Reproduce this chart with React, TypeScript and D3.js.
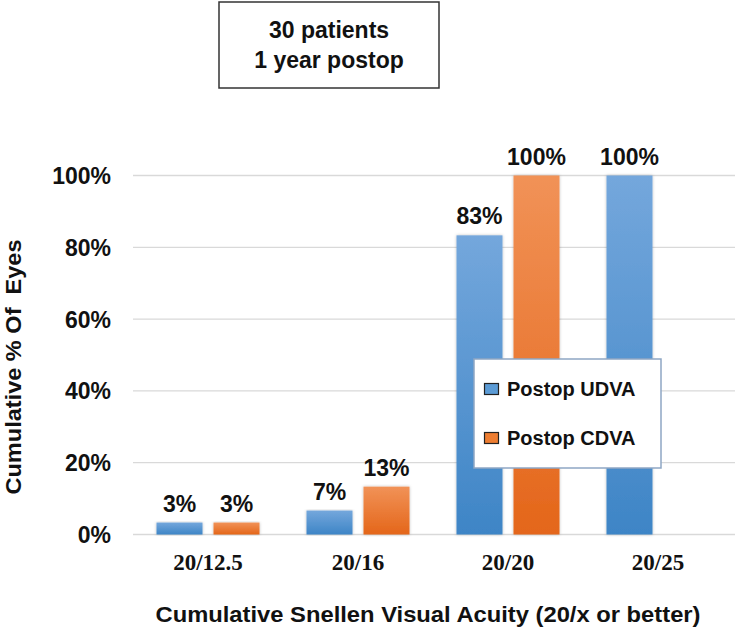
import React from "react";
import * as d3 from "d3";

const categories = ["20/12.5", "20/16", "20/20", "20/25"];
const seriesNames = ["Postop UDVA", "Postop CDVA"];
const udva = [3.33, 6.67, 83.33, 100];
const cdva: (number | null)[] = [3.33, 13.33, 100, null];
const yTicks = [0, 20, 40, 60, 80, 100];
const titleLines = ["30 patients", "1 year postop"];
const xTitle = "Cumulative Snellen Visual Acuity (20/x or better)";
const yTitle = "Cumulative % Of  Eyes";

const W = 735;
const H = 629;
const SANS = "'Liberation Sans', Arial, sans-serif";
const SERIF = "'Liberation Serif', 'Times New Roman', serif";

export default function App() {
  const x0 = d3.scaleBand<string>().domain(categories).range([133, 733]).paddingInner(0.3133).paddingOuter(0.1567);
  const x1 = d3.scaleBand<string>().domain(seriesNames).range([0, x0.bandwidth()]).paddingInner(0.193);
  const y = d3.scaleLinear().domain([0, 100]).range([534.5, 175.5]);
  const series = [udva, cdva];
  const fills = ["url(#gBlue)", "url(#gOrange)"];
  const swatch = ["#5b9bd5", "#ed7d31"];

  return (
    <svg width={W} height={H} style={{ position: "absolute", left: 0, top: 0, background: "#fff" }}>
      <defs>
        <linearGradient id="gBlue" x1="0" y1="0" x2="0" y2="1">
          <stop offset="0" stopColor="#74a7dc" />
          <stop offset="1" stopColor="#3e85c6" />
        </linearGradient>
        <linearGradient id="gOrange" x1="0" y1="0" x2="0" y2="1">
          <stop offset="0" stopColor="#f19257" />
          <stop offset="1" stopColor="#e4661a" />
        </linearGradient>
        <filter id="shadow" x="-20%" y="-5%" width="140%" height="110%">
          <feDropShadow dx="0" dy="0" stdDeviation="1.5" floodColor="#000" floodOpacity="0.25" />
        </filter>
      </defs>

      {/* gridlines */}
      {yTicks.map((t) => (
        <line key={t} x1={133} x2={W} y1={y(t)} y2={y(t)} stroke="#d9d9d9" strokeWidth={1.3} />
      ))}

      {/* y tick labels */}
      {yTicks.map((t) => (
        <text key={t} x={111} y={y(t) + 8.5} textAnchor="end" fontFamily={SANS} fontWeight="bold" fontSize={23} fill="#111">
          {t}%
        </text>
      ))}

      {/* bars */}
      {categories.map((c, i) => (
        <g key={c} transform={`translate(${x0(c)},0)`}>
          {series.map((s, j) => {
            const v = s[i];
            if (v == null) return null;
            const bx = x1(seriesNames[j])!;
            return (
              <g key={j}>
                <rect x={bx} y={y(v)} width={x1.bandwidth()} height={y(0) - y(v)} fill={fills[j]} filter="url(#shadow)" />
                <text x={bx + x1.bandwidth() / 2} y={y(v) - 11} textAnchor="middle" fontFamily={SANS} fontWeight="bold" fontSize={23} fill="#111">
                  {Math.round(v)}%
                </text>
              </g>
            );
          })}
        </g>
      ))}

      {/* x tick labels */}
      {categories.map((c) => (
        <text key={c} x={x0(c)! + x0.bandwidth() / 2} y={570} textAnchor="middle" fontFamily={SERIF} fontWeight="bold" fontSize={23} fill="#111">
          {c}
        </text>
      ))}

      {/* axis titles */}
      <text x={428} y={622} textAnchor="middle" fontFamily={SANS} fontWeight="bold" fontSize={22} fill="#111" textLength={545} lengthAdjust="spacingAndGlyphs">
        {xTitle}
      </text>
      <text transform="translate(21,367) rotate(-90)" textAnchor="middle" fontFamily={SANS} fontWeight="bold" fontSize={22} fill="#111" textLength={255} lengthAdjust="spacingAndGlyphs" style={{ whiteSpace: "pre" }}>
        {yTitle}
      </text>

      {/* title box */}
      <rect x={219} y={2} width={220} height={86} fill="#fff" stroke="#333" strokeWidth={1.5} />
      {titleLines.map((l, i) => (
        <text key={l} x={329} y={38 + i * 30} textAnchor="middle" fontFamily={SANS} fontWeight="bold" fontSize={23} fill="#111">
          {l}
        </text>
      ))}

      {/* legend */}
      <rect x={474} y={359} width={187} height={109} fill="#fff" stroke="#8ea6c4" strokeWidth={1.5} />
      {seriesNames.map((n, i) => (
        <g key={n}>
          <rect x={484.5} y={383.5 + i * 49} width={14} height={11} fill={swatch[i]} stroke="#222" strokeWidth={1.2} />
          <text x={507} y={395.5 + i * 49} fontFamily={SANS} fontWeight="bold" fontSize={20} fill="#111">
            {n}
          </text>
        </g>
      ))}
    </svg>
  );
}
